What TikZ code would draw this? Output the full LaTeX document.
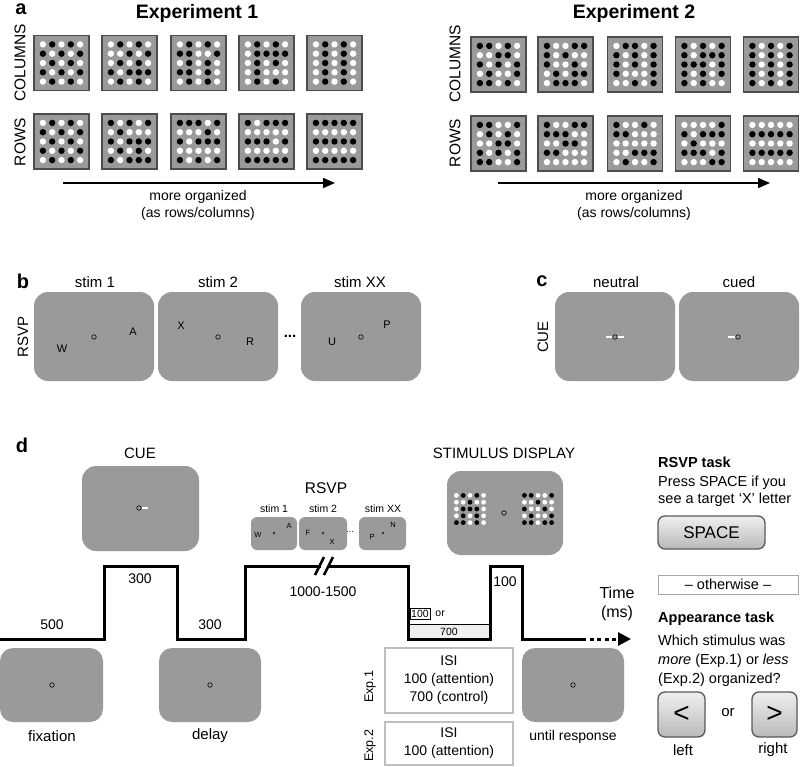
\documentclass[tikz,border=0pt]{standalone}
\usepackage{fontspec}
\setmainfont{Liberation Sans}
\usetikzlibrary{calc,arrows.meta,positioning}

\definecolor{scr}{HTML}{9A9A9A}
\colorlet{dotw}{white}
\colorlet{dotb}{black}

% 5x5 dot grid round a node: centre, spacing, radius, pattern
\newcommand{\dotgrid}[4]{%
    \foreach \dc [count=\k from 0] in {#4} {%
        \pgfmathtruncatemacro\col{mod(\k,5)}%
        \pgfmathtruncatemacro\row{floor(\k/5)}%
        \fill[fill=dot\dc] ($(#1)+({(\col-2)*#2},{(\row-2)*#2})$) circle (#3pt);
    }}

\begin{document}
\begin{tikzpicture}[x=1pt, y=-1pt,
    every node/.style={inner sep=0pt},
    txt/.style={font=\fontsize{#1}{#1}\selectfont},
    btxt/.style={font=\bfseries\fontsize{#1}{#1}\selectfont},
    panel/.style={draw=black!70, line width=1.2pt, fill=scr, minimum size=55pt},
    screen/.style={fill=scr, rounded corners=14pt},
    minis/.style={fill=scr, rounded corners=6pt, minimum width=47pt, minimum height=33pt},
    fixdot/.style={circle, draw=black, line width=0.6pt, fill=scr, minimum size=4.5pt},
    keycap/.style={draw=black!65, line width=1.3pt, rounded corners=7pt, top color=gray!12, bottom color=gray!55},
    isibox/.style={draw=black!25, line width=1.5pt, minimum width=128pt, align=center, font=\fontsize{14}{18}\selectfont},
    arr/.style={line width=1.6pt, -{Triangle[length=12pt,width=10pt]}}
]
    \useasboundingbox (0,0) rectangle (800,767);

    % ---------- a ----------
    \node[btxt=20] (la) at (21,9) {a};
    \node[btxt=19.5] (t1) at (197,13) {Experiment 1};
    \node[btxt=19.5] (t2) at (634,13) {Experiment 2};
    \node[txt=15.5, rotate=90] (col1) at (20,63) {COLUMNS};
    \node[txt=15.5, rotate=90] (row1) at (20,142) {ROWS};
    \node[txt=15.5, rotate=90] (col2) at (455,64) {COLUMNS};
    \node[txt=15.5, rotate=90] (row2) at (455,143) {ROWS};

    \foreach \n/\x in {1/61.5,2/129.5,3/198.5,4/266.5,5/334.5} {
        \node[panel] (e1c\n) at (\x,63) {};
        \node[panel] (e1r\n) at (\x,141.5) {};
    }
    \foreach \n/\x in {1/498.5,2/565.5,3/635,4/703,5/771} {
        \node[panel] (e2c\n) at (\x,64.5) {};
        \node[panel] (e2r\n) at (\x,143.5) {};
    }

    % Experiment 1
    \dotgrid{e1c1}{9.3}{3.2}{w,b,w,b,w, b,w,b,w,b, w,b,w,b,w, b,w,b,w,b, w,b,w,b,w}
    \dotgrid{e1c2}{9.3}{3.2}{w,b,w,b,w, w,w,b,w,b, w,b,w,b,w, b,w,b,b,b, w,b,w,b,w}
    \dotgrid{e1c3}{9.3}{3.2}{w,b,w,b,w, b,b,w,w,b, w,b,w,b,w, b,b,w,b,w, w,b,w,b,w}
    \dotgrid{e1c4}{9.3}{3.2}{w,b,w,b,w, w,b,b,b,b, w,b,w,b,w, w,b,w,w,w, w,b,w,b,w}
    \dotgrid{e1c5}{9.3}{3.2}{w,b,w,b,w, w,b,w,b,w, w,b,w,b,w, w,b,w,b,w, w,b,w,b,w}
    \dotgrid{e1r1}{9.3}{3.2}{w,b,w,b,w, b,w,b,w,b, w,b,w,b,w, b,w,b,w,b, w,b,w,b,w}
    \dotgrid{e1r2}{9.3}{3.2}{b,w,b,w,b, w,b,w,w,w, b,w,b,b,b, w,b,w,b,w, b,w,b,b,b}
    \dotgrid{e1r3}{9.3}{3.2}{b,b,b,w,b, w,w,w,b,w, b,w,b,b,b, w,w,w,w,w, b,w,b,w,b}
    \dotgrid{e1r4}{9.3}{3.2}{b,w,b,b,b, w,w,w,w,w, b,b,b,w,b, w,w,w,w,w, b,b,b,b,b}
    \dotgrid{e1r5}{9.3}{3.2}{b,b,b,b,b, w,w,w,w,w, b,b,b,b,b, w,w,w,w,w, b,b,b,b,b}
    % Experiment 2
    \dotgrid{e2c1}{9.3}{3.2}{b,b,w,b,w, w,w,b,b,w, b,w,b,w,b, w,b,w,w,b, b,b,w,b,w}
    \dotgrid{e2c2}{9.3}{3.2}{b,w,w,b,b, b,w,b,w,w, b,w,w,b,w, w,b,w,b,b, w,b,b,b,w}
    \dotgrid{e2c3}{9.3}{3.2}{w,b,b,w,b, b,w,b,w,b, b,w,b,w,b, b,w,w,w,b, w,w,b,w,b}
    \dotgrid{e2c4}{9.3}{3.2}{b,w,b,w,b, b,w,b,b,b, b,b,b,w,b, b,w,b,w,b, b,w,b,w,w}
    \dotgrid{e2c5}{9.3}{3.2}{b,w,b,w,b, b,w,b,w,b, b,w,b,w,b, b,w,b,w,b, b,w,b,w,b}
    \dotgrid{e2r1}{9.3}{3.2}{b,b,w,w,b, w,b,w,b,w, w,w,b,b,w, b,w,b,w,b, b,b,w,w,b}
    \dotgrid{e2r2}{9.3}{3.2}{b,w,w,b,b, b,b,b,w,w, w,w,b,b,w, b,b,w,w,w, w,w,w,w,w}
    \dotgrid{e2r3}{9.3}{3.2}{b,w,w,b,w, b,b,w,w,w, w,w,w,w,w, w,w,b,b,b, w,b,w,w,b}
    \dotgrid{e2r4}{9.3}{3.2}{w,w,w,w,b, b,w,b,b,b, w,b,w,w,w, b,b,b,w,b, w,w,w,b,b}
    \dotgrid{e2r5}{9.3}{3.2}{w,w,w,w,w, b,b,b,b,b, w,w,w,w,w, b,b,b,b,b, w,w,w,w,w}

    \coordinate (a1s) at (63,183);
    \coordinate (a1e) at (335,183);
    \coordinate (a2s) at (498,183);
    \coordinate (a2e) at (770,183);
    \draw[arr] (a1s) -- (a1e);
    \draw[arr] (a2s) -- (a2e);
    \node[txt=14] (mo1) at (198,197) {more organized};
    \node[txt=14] (as1) at (198,214) {(as rows/columns)};
    \node[txt=14] (mo2) at (634,197) {more organized};
    \node[txt=14] (as2) at (634,214) {(as rows/columns)};

    % ---------- b ----------
    \node[btxt=20] (lb) at (23,281) {b};
    \node[txt=15, rotate=90] (rsvpb) at (23,337) {RSVP};
    \node[txt=15] (s1) at (95,282) {stim 1};
    \node[txt=15] (s2) at (218,282) {stim 2};
    \node[txt=15] (s3) at (360,282) {stim XX};
    \node[screen, minimum width=120pt, minimum height=89pt] (b1) at (94,336.5) {};
    \node[screen, minimum width=120pt, minimum height=89pt] (b2) at (218,336.5) {};
    \node[screen, minimum width=120pt, minimum height=89pt] (b3) at (361,336.5) {};
    \node[txt=15] (bdots) at (290,336) {\textbf{...}};
    \node[fixdot] (bf1) at (94,337) {};
    \node[fixdot] (bf2) at (218,337) {};
    \node[fixdot] (bf3) at (361,337) {};
    \node[txt=11] (b1w) at (62,349) {W};
    \node[txt=11] (b1a) at (133,332) {A};
    \node[txt=11] (b2x) at (181,326) {X};
    \node[txt=11] (b2r) at (250,342) {R};
    \node[txt=11] (b3u) at (332,342) {U};
    \node[txt=11] (b3p) at (387,325) {P};

    % ---------- c ----------
    \node[btxt=20] (lc) at (542,281) {c};
    \node[txt=15, rotate=90] (cuec) at (543,337) {CUE};
    \node[txt=15] (neu) at (616,282) {neutral};
    \node[txt=15] (cue) at (739,282) {cued};
    \node[screen, minimum width=120pt, minimum height=89pt] (c1) at (615,336.5) {};
    \node[screen, minimum width=120pt, minimum height=89pt] (c2) at (739,336.5) {};
    \node[fixdot] (cf1) at (615,337) {};
    \node[fixdot] (cf2) at (738,337) {};
    \draw[white, line width=1.2pt] (cf1.west) -- ++(-6,0);
    \draw[white, line width=1.2pt] (cf1.east) -- ++(6,0);
    \draw[white, line width=1.2pt] (cf2.west) -- ++(-7,0);

    % ---------- d ----------
    \node[btxt=20] (ld) at (22,445) {d};
    \node[txt=15] (cued) at (140,453) {CUE};
    \node[screen, minimum width=117pt, minimum height=85pt] (dcue) at (140.5,508.5) {};
    \node[fixdot] (dcf) at (139,508) {};
    \draw[white, line width=1.2pt] (dcf.east) -- ++(6,0);

    \node[txt=15.5] (rsvpd) at (326,488) {RSVP};
    \node[txt=10.5] (m1) at (274,509) {stim 1};
    \node[txt=10.5] (m2) at (323,509) {stim 2};
    \node[txt=10.5] (m3) at (383,509) {stim XX};
    \node[minis, minimum width=46pt] (ms1) at (274,533.5) {};
    \node[minis, minimum width=48pt] (ms2) at (323,533.5) {};
    \node[minis] (ms3) at (382.5,533.5) {};
    \node[txt=9] (mdots) at (350,532) {...};
    \foreach \x in {274,323,383}
        \fill[black!80] (\x,533) circle (1.3pt);
    \node[txt=7.5] (ms1w) at (258,535) {W};
    \node[txt=7.5] (ms1a) at (289,526) {A};
    \node[txt=7.5] (ms2f) at (308,533) {F};
    \node[txt=7.5] (ms2x) at (332,542) {X};
    \node[txt=7.5] (ms3p) at (372,537) {P};
    \node[txt=7.5] (ms3n) at (393,525) {N};

    \node[txt=15] (sdl) at (504,453) {STIMULUS DISPLAY};
    \node[screen, minimum width=116pt, minimum height=84pt] (sd) at (505,513) {};
    \coordinate (sdl1) at (470,509);
    \coordinate (sdr1) at (538,509);
    \dotgrid{sdl1}{6.8}{2.4}{w,b,w,b,w, w,w,b,w,w, w,b,b,b,w, w,b,w,b,w, b,b,w,b,w}
    \dotgrid{sdr1}{6.8}{2.4}{b,b,w,w,b, w,w,b,w,w, b,w,w,b,w, w,b,w,w,b, b,b,w,b,b}
    \node[fixdot] (sdf) at (504,513) {};

    % ISI bars
    \node[draw=black, line width=0.5pt, fill=gray!12, minimum width=80pt, minimum height=15pt, txt=10.5] (i700) at (449,631.5) {700};
    \node[draw=black, line width=0.5pt, fill=white, minimum width=20pt, minimum height=11pt, txt=10.5] (i100) at (420,613.5) {100};
    \node[txt=10.5, right=5pt of i100] (ior) {or};

    % time line
    \draw[line width=3pt] (0,639) -- (104,639) -- (104,566) -- (177,566) -- (177,639)
        -- (245,639) -- (245,566) -- (408,566) -- (408,639) -- (490,639) -- (490,566)
        -- (522,566) -- (522,639) -- (582,639);
    \draw[line width=3pt, dash pattern=on 4pt off 3.5pt, -{Triangle[length=13pt,width=13pt]}] (582,639) -- (631,639);
    \fill[white] (321,563) rectangle (328,569);
    \draw[line width=2.5pt] (315,575) -- (324,557);
    \draw[line width=2.5pt] (324,575) -- (333,557);

    \node[txt=14] (d500) at (52,625) {500};
    \node[txt=14] (d300a) at (140,579) {300};
    \node[txt=14] (d300b) at (210,625) {300};
    \node[txt=14] (d1000) at (323,592) {1000-1500};
    \node[txt=14] (d100) at (505,582) {100};
    \node[txt=16] (time) at (617,593) {Time};
    \node[txt=16] (ms) at (617,613) {(ms)};

    \node[screen, rounded corners=13pt, minimum width=103pt, minimum height=74pt] (dfix) at (51.5,685) {};
    \node[screen, rounded corners=13pt, minimum width=102pt, minimum height=74pt] (ddel) at (210,685) {};
    \node[screen, rounded corners=13pt, minimum width=102pt, minimum height=74pt] (dres) at (573,685) {};
    \node[fixdot] (ff) at (52,685) {};
    \node[fixdot] (fd) at (210,685) {};
    \node[fixdot] (fr) at (573,685) {};
    \node[txt=15] (tfix) at (52,736) {fixation};
    \node[txt=15] (tdel) at (210,736) {delay};
    \node[txt=14] (tres) at (573,737) {until response};

    \node[isibox, minimum height=65pt] (isi1) at (449,680.5) {ISI\\100 (attention)\\700 (control)};
    \node[isibox, minimum height=43pt] (isi2) at (449,743.5) {ISI\\100 (attention)};
    \node[txt=12.5, rotate=90] (x1) at (370,687) {Exp.1};
    \node[txt=12.5, rotate=90] (x2) at (370,746) {Exp.2};

    % tasks
    \node[btxt=14.5, anchor=west] (rtask) at (658,462) {RSVP task};
    \node[anchor=west, align=left, font=\fontsize{14.5}{17}\selectfont] (rtext) at (658,491.5) {Press SPACE if you\\see a target `X' letter};
    \node[keycap, minimum width=107pt, minimum height=33pt, txt=17] (space) at (711.5,532.5) {SPACE};
    \node[draw=black!35, line width=1pt, minimum width=140pt, minimum height=19pt, txt=14.5] (other) at (728,584.5) {-- otherwise --};
    \node[btxt=14.5, anchor=west] (atask) at (658,619) {Appearance task};
    \node[anchor=west, align=left, font=\fontsize{14.5}{19}\selectfont] (atext) at (658,661) {Which stimulus was\\\textit{more} (Exp.1) or \textit{less}\\(Exp.2) organized?};
    \node[keycap, minimum width=47pt, minimum height=45pt, txt=28] (kl) at (681.5,714.5) {<};
    \node[keycap, minimum width=45pt, minimum height=45pt, txt=28] (kr) at (774.5,714.5) {>};
    \node[txt=15] (kor) at (728,713) {or};
    \node[txt=15] (kleft) at (683,750) {left};
    \node[txt=15] (kright) at (773,750) {right};
\end{tikzpicture}
\end{document}
